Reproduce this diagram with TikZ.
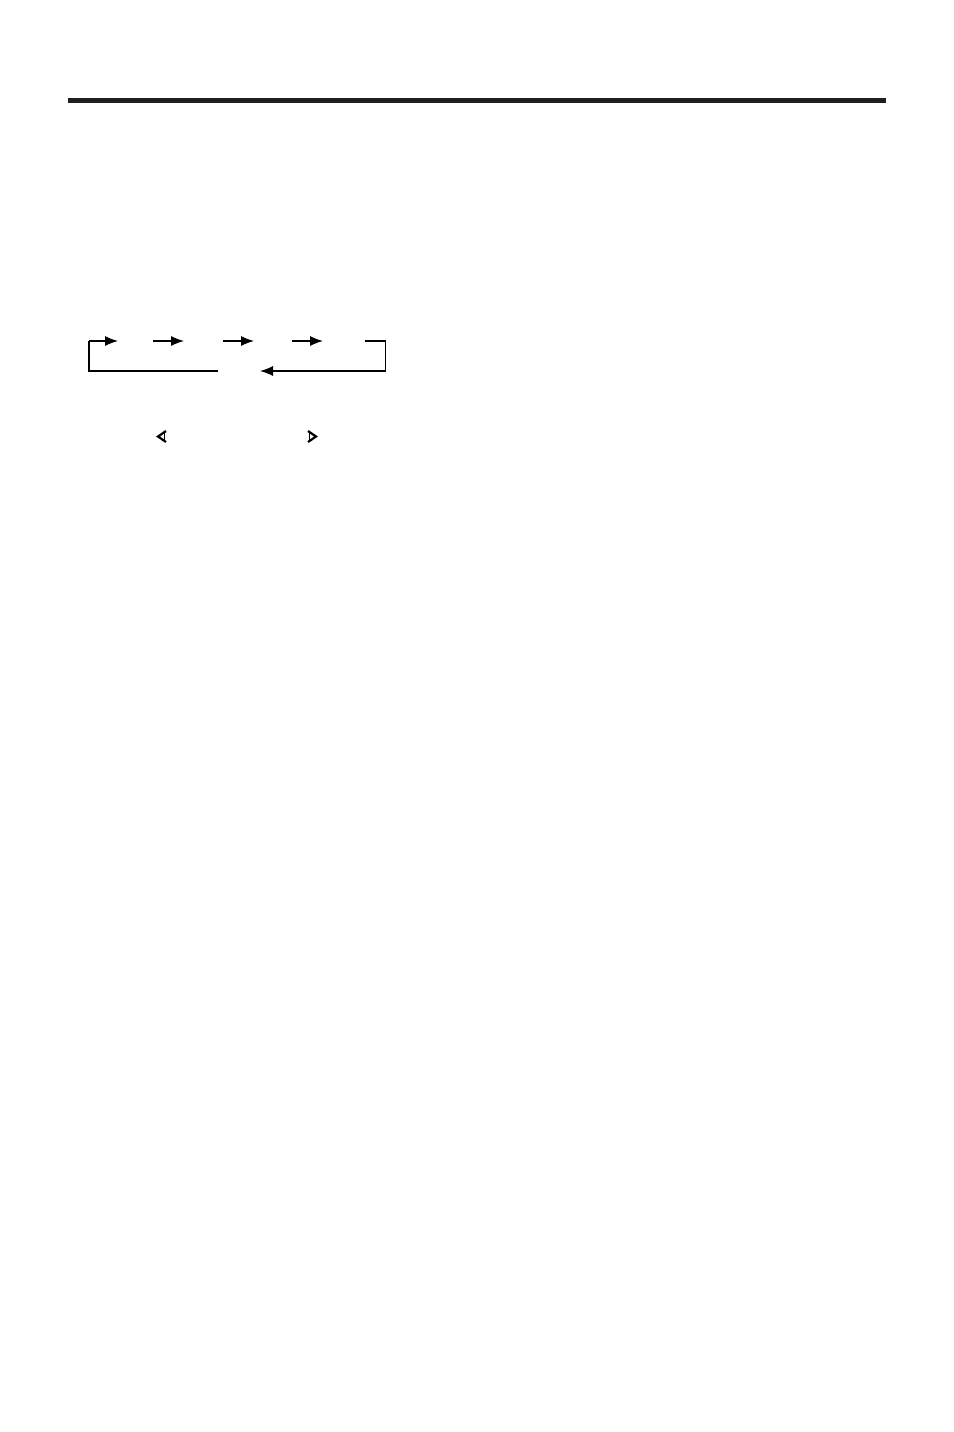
\documentclass[tikz,border=0pt]{standalone}
\usetikzlibrary{arrows.meta}
\begin{document}
\begin{tikzpicture}[x=0.5pt,y=-0.5pt,
  conn/.style={line width=0.55pt,-{Latex[length=6.5pt,width=5pt]}},
  plain/.style={line width=0.55pt},
  bar/.style={fill=black!88},
  chev/.style={line width=1.1pt,line join=miter,line cap=butt}]
\useasboundingbox (0,0) rectangle (954,1432);
\fill[bar] (68,98) rectangle (886,103);
% connector points
\coordinate (c0) at (89,371);
\coordinate (lbl) at (218,371);
\coordinate (c1) at (89,341);
\coordinate (t1) at (118,341);
\coordinate (s2) at (153,341);
\coordinate (t2) at (184,341);
\coordinate (s3) at (223,341);
\coordinate (t3) at (254,341);
\coordinate (s4) at (292,341);
\coordinate (t4) at (323,341);
\coordinate (s5) at (365,341);
\coordinate (c5) at (385.5,341);
\coordinate (c6) at (385.5,371);
\coordinate (t6) at (260,371);
\draw[plain] (lbl) -- (c0) -- (c1);
\draw[conn] (c1) -- (t1);
\draw[conn] (s2) -- (t2);
\draw[conn] (s3) -- (t3);
\draw[conn] (s4) -- (t4);
\draw[conn] (s5) -- (c5) -- (c6) -- (t6);
% chevrons
\coordinate (lc) at (158,436.5);
\coordinate (rc) at (316,436.5);
\draw[chev] ([shift={(8,-5.5)}]lc) -- (lc) -- ([shift={(8,5.5)}]lc);
\draw[line width=0.45pt] ([shift={(6.5,-3.5)}]lc) -- ([shift={(6.5,3.5)}]lc);
\draw[chev] ([shift={(-8,-5.5)}]rc) -- (rc) -- ([shift={(-8,5.5)}]rc);
\draw[line width=0.45pt] ([shift={(-6.5,-3.5)}]rc) -- ([shift={(-6.5,3.5)}]rc);
\end{tikzpicture}
\end{document}
